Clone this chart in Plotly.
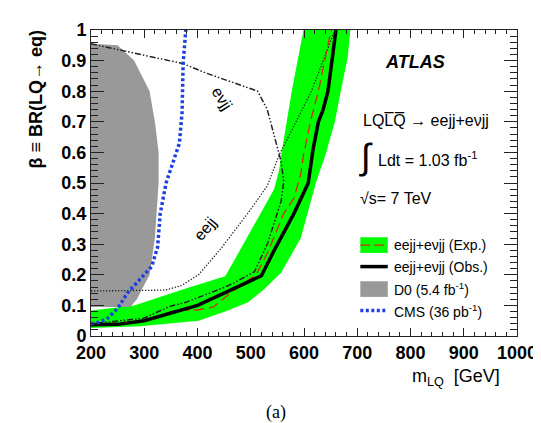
import plotly.graph_objects as go

# ---------------- data ----------------
# Expected +-1 sigma band (upper/left edge, then lower/right edge)
band_up_x = [200, 281, 378, 452, 470, 501, 525, 544, 553, 557, 577, 599]
band_up_y = [0.083, 0.10, 0.155, 0.195, 0.25, 0.345, 0.42, 0.48, 0.54, 0.59, 0.80, 1.0]
band_lo_x = [200, 292, 402, 452, 495, 525, 557, 594, 623, 640, 658, 669, 682, 687]
band_lo_y = [0.026, 0.032, 0.05, 0.08, 0.11, 0.153, 0.207, 0.32, 0.505, 0.59, 0.70, 0.80, 0.91, 1.0]

exp_x = [200, 300, 360, 400, 430, 465, 510, 531, 562, 581, 594, 599, 612, 627, 640, 651]
exp_y = [0.035, 0.05, 0.085, 0.085, 0.095, 0.145, 0.20, 0.27, 0.40, 0.45, 0.53, 0.59, 0.70, 0.80, 0.91, 1.0]

obs_x = [200, 250, 300, 400, 450, 520, 544, 581, 608, 617, 627, 636, 645, 654, 660]
obs_y = [0.037, 0.038, 0.05, 0.10, 0.14, 0.197, 0.28, 0.40, 0.50, 0.61, 0.70, 0.74, 0.80, 0.91, 1.0]

eejj_x = [200, 340, 370, 402, 446, 494, 531, 553, 614, 658]
eejj_y = [0.147, 0.15, 0.165, 0.20, 0.29, 0.40, 0.49, 0.59, 0.80, 1.0]

evjj_x = [200, 373, 415, 513, 531, 547, 557, 562, 557, 531, 507, 470, 452, 378, 347, 299, 200]
evjj_y = [0.955, 0.89, 0.86, 0.80, 0.74, 0.64, 0.57, 0.505, 0.44, 0.30, 0.21, 0.175, 0.16, 0.11, 0.096, 0.058, 0.04]

d0_x = [200, 274, 286, 310, 320, 327, 327, 320, 310, 281, 250, 200]
d0_y = [0.095, 0.095, 0.12, 0.20, 0.32, 0.50, 0.60, 0.70, 0.80, 0.90, 0.95, 0.955]

cms_x = [200, 215, 231, 250, 268, 292, 314, 325, 330, 341, 354, 366, 371, 373, 378]
cms_y = [0.04, 0.045, 0.058, 0.09, 0.14, 0.185, 0.227, 0.29, 0.40, 0.50, 0.57, 0.63, 0.73, 0.89, 1.0]

legend_labels = ["eejj+eνjj (Exp.)", "eejj+eνjj (Obs.)", "D0 (5.4 fb<sup>-1</sup>)", "CMS (36 pb<sup>-1</sup>)"]

FONT = "Liberation Sans, Arial, sans-serif"
GREEN = "#00ff00"
GRAY = "#999999"
BLUE = "#1f3fe6"
RED = "#d42a10"

fig = go.Figure()

# green band
fig.add_trace(go.Scatter(x=band_up_x + band_lo_x[::-1], y=band_up_y + band_lo_y[::-1],
                         fill="toself", fillcolor=GREEN, line=dict(width=0),
                         mode="lines", showlegend=False, hoverinfo="skip"))
# D0 excluded region
fig.add_trace(go.Scatter(x=d0_x, y=d0_y, fill="toself", fillcolor=GRAY,
                         line=dict(width=0), mode="lines", showlegend=False))
# eejj dotted
fig.add_trace(go.Scatter(x=eejj_x, y=eejj_y, mode="lines",
                         line=dict(color="#222222", width=1.3, dash="1.3px,1.7px"), showlegend=False))
# evjj dash-dot-dot
fig.add_trace(go.Scatter(x=evjj_x, y=evjj_y, mode="lines",
                         line=dict(color="#222222", width=1.5, dash="6px,2px,1.5px,2px,1.5px,2px"), showlegend=False))
# expected (red dashed)
fig.add_trace(go.Scatter(x=exp_x, y=exp_y, mode="lines",
                         line=dict(color=RED, width=1.3, dash="10px,5px"), showlegend=False))
# observed
fig.add_trace(go.Scatter(x=obs_x, y=obs_y, mode="lines",
                         line=dict(color="black", width=3.5), showlegend=False))
# CMS
fig.add_trace(go.Scatter(x=cms_x, y=cms_y, mode="lines",
                         line=dict(color=BLUE, width=3.5, dash="3px,2.5px"), showlegend=False))

# ---------------- axes ----------------
common = dict(showline=True, linecolor="#222222", linewidth=1, mirror="ticks",
              ticks="inside", showgrid=False, zeroline=False,
              tickfont=dict(family=FONT, size=18, color="black", weight="bold"))
fig.update_xaxes(range=[200, 1000], tickvals=[200, 300, 400, 500, 600, 700, 800, 900, 1000],
                 ticklen=8, tickwidth=1, tickcolor="#222222",
                 minor=dict(dtick=20, tick0=200, ticklen=4, ticks="inside", tickcolor="#222222"),
                 **common)
fig.update_yaxes(range=[0, 1], tickvals=[0, 0.1, 0.2, 0.3, 0.4, 0.5, 0.6, 0.7, 0.8, 0.9, 1],
                 ticktext=["0", "0.1", "0.2", "0.3", "0.4", "0.5", "0.6", "0.7", "0.8", "0.9", "1"],
                 ticklen=13, tickwidth=1, tickcolor="#222222",
                 minor=dict(dtick=0.02, tick0=0, ticklen=7, ticks="inside", tickcolor="#222222"),
                 **common)

ann = []
def txt(x, y, t, size, xanchor="left", yanchor="middle", xref="paper", yref="paper", angle=0,
        family=FONT, weight="normal"):
    ann.append(dict(x=x, y=y, xref=xref, yref=yref, text=t, showarrow=False, xanchor=xanchor,
                    yanchor=yanchor, textangle=angle,
                    font=dict(family=family, size=size, color="black", weight=weight)))

def px2x(px):
    return (px - 83) / 435.0

def py2y(py):
    return (328 - py) / 313.0

# axis titles
txt(px2x(27), py2y(86), "β ≡ BR(LQ→ eq)", 18, xanchor="center", angle=-90, weight="bold")
txt(px2x(503), py2y(370), "m<sub>LQ</sub>  [GeV]", 18, xanchor="right")
txt(px2x(272), py2y(406), "(a)", 18, xanchor="center", family="Liberation Serif, Times New Roman, serif")

# labels on curves
txt(446, 0.776, "eνjj", 16, xanchor="center", xref="x", yref="y", angle=58)
txt(415, 0.35, "eejj", 16, xanchor="center", xref="x", yref="y", angle=-50)

# text block
txt(px2x(381), py2y(48), "<b><i>ATLAS</i></b>", 18)
txt(px2x(359), py2y(108), "LQL\u0305Q\u0305 → eejj+eνjj", 16)
txt(px2x(355), py2y(144), "∫", 36)
txt(px2x(374), py2y(147), "Ldt = 1.03 fb<sup>-1</sup>", 16)
txt(px2x(356), py2y(187), "√s= 7 TeV", 16)

# manual legend
shapes = []
rows = [235, 257, 280, 302]
sx0, sx1 = px2x(358), px2x(386)
# Exp: green box + red dashed line
shapes.append(dict(type="rect", xref="paper", yref="paper", x0=sx0, x1=sx1,
                   y0=py2y(rows[0] + 8), y1=py2y(rows[0] - 8), fillcolor=GREEN, line=dict(width=0)))
shapes.append(dict(type="line", xref="paper", yref="paper", x0=sx0, x1=sx1,
                   y0=py2y(rows[0]), y1=py2y(rows[0]), line=dict(color=RED, width=1.3, dash="10px,4px")))
# Obs: black line
shapes.append(dict(type="line", xref="paper", yref="paper", x0=sx0, x1=sx1,
                   y0=py2y(rows[1]), y1=py2y(rows[1]), line=dict(color="black", width=3.5)))
# D0: gray box
shapes.append(dict(type="rect", xref="paper", yref="paper", x0=sx0, x1=sx1,
                   y0=py2y(rows[2] + 8), y1=py2y(rows[2] - 8), fillcolor=GRAY, line=dict(width=0)))
# CMS: blue dotted
shapes.append(dict(type="line", xref="paper", yref="paper", x0=sx0, x1=sx1,
                   y0=py2y(rows[3]), y1=py2y(rows[3]), line=dict(color=BLUE, width=3.5, dash="3px,2.5px")))
for r, lab in zip(rows, legend_labels):
    txt(px2x(390), py2y(r), lab, 14)

fig.update_layout(width=541, height=423, margin=dict(l=83, r=23, t=15, b=95),
                  paper_bgcolor="white", plot_bgcolor="white",
                  annotations=ann, shapes=shapes, showlegend=False)

fig.write_html("out.html")
